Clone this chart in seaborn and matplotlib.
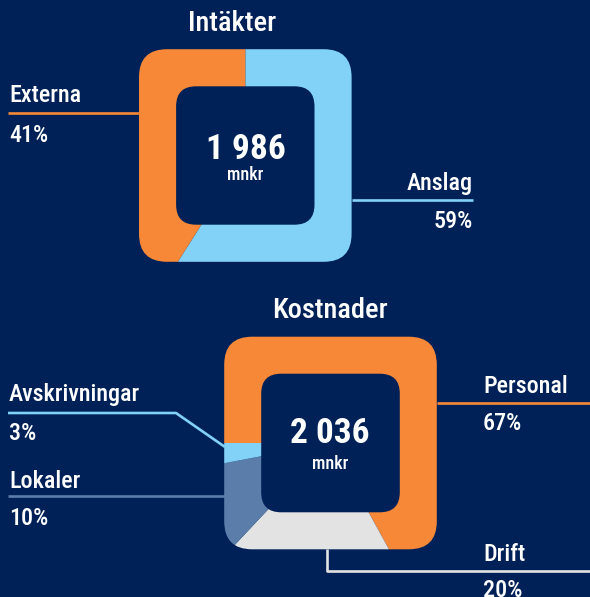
import matplotlib
matplotlib.use("Agg")
import matplotlib.pyplot as plt
from matplotlib.patches import FancyBboxPatch
from matplotlib import font_manager
import seaborn as sns

# ---------------- data ----------------
income_labels = ["Anslag", "Externa"]
income_values = [59, 41]
income_total = "1 986"

cost_labels = ["Personal", "Drift", "Lokaler", "Avskrivningar"]
cost_values = [67, 20, 10, 3]
cost_total = "2 036"

unit = "mnkr"
titles = ["Intäkter", "Kostnader"]

# ---------------- style ----------------
BG = "#002157"
ORANGE = "#F78837"
LIGHTBLUE = "#82D2F8"
STEEL = "#5A7DAA"
GRAY = "#E3E3E3"
income_colors = [LIGHTBLUE, ORANGE]
cost_colors = [ORANGE, GRAY, STEEL, LIGHTBLUE]

sns.set_theme(style="dark", rc={"axes.facecolor": BG, "figure.facecolor": BG,
                                "savefig.facecolor": BG})
names = {f.name for f in font_manager.fontManager.ttflist}
fam = [n for n in ["Roboto Condensed", "Roboto", "Liberation Sans", "DejaVu Sans"] if n in names]
plt.rcParams["font.family"] = fam

W, H = 590, 597
fig = plt.figure(figsize=(W / 100, H / 100), dpi=100)
ax = fig.add_axes([0, 0, 1, 1])


def Y(y):
    return H - y


def donut(values, colors, cx, cy, half_out, r_out, half_in, r_in, start):
    outer = FancyBboxPatch((cx - half_out, Y(cy) - half_out), 2 * half_out, 2 * half_out,
                           boxstyle=f"round,pad=0,rounding_size={r_out}",
                           facecolor="none", edgecolor="none", zorder=0)
    ax.add_patch(outer)
    wedges, _ = ax.pie(values, colors=colors, startangle=start, counterclock=False,
                       center=(cx, Y(cy)), radius=170, frame=True,
                       wedgeprops=dict(linewidth=0, antialiased=True))
    for w in wedges:
        w.set_clip_on(True)
        w.set_clip_path(outer)
    inner = FancyBboxPatch((cx - half_in, Y(cy) - half_in), 2 * half_in, 2 * half_in,
                           boxstyle=f"round,pad=0,rounding_size={r_in}",
                           facecolor=BG, edgecolor="none", zorder=5)
    ax.add_patch(inner)


donut(income_values, income_colors, 245.3, 155.5, 106.3, 28, 69.2, 20, 90)
donut(cost_values, cost_colors, 330.5, 443.0, 106.3, 28, 69.3, 20, 180)

ax.set_xlim(0, W)
ax.set_ylim(0, H)
ax.set_aspect("equal")
ax.axis("off")

LW = 1.9
TXT = dict(color="white", fontsize=17.3, fontweight=500, va="baseline", zorder=10)


def line(xs, ys, color):
    ax.plot(xs, [Y(v) for v in ys], color=color, lw=LW, solid_capstyle="butt", zorder=4)


# titles
ax.text(232.5, Y(31), titles[0], ha="center", **{**TXT, "fontsize": 20.5})
ax.text(330, Y(318), titles[1], ha="center", **{**TXT, "fontsize": 20.5})

# center totals
ax.text(245.5, Y(159), income_total, ha="center", color="white", fontsize=25.5,
        fontweight="bold", va="baseline", zorder=10)
ax.text(245.5, Y(180), unit, ha="center", color="white", fontsize=13,
        fontweight=500, va="baseline", zorder=10)
ax.text(330, Y(443), cost_total, ha="center", color="white", fontsize=25.5,
        fontweight="bold", va="baseline", zorder=10)
ax.text(330, Y(469), unit, ha="center", color="white", fontsize=13,
        fontweight=500, va="baseline", zorder=10)

# income labels
ax.text(9, Y(102), income_labels[1], ha="left", **TXT)
ax.text(9, Y(142), f"{income_values[1]}%", ha="left", **TXT)
line([8, 139], [113, 113], ORANGE)

ax.text(473, Y(190), income_labels[0], ha="right", **TXT)
ax.text(473, Y(228), f"{income_values[0]}%", ha="right", **TXT)
line([352, 473], [200, 200], LIGHTBLUE)

# cost labels
ax.text(483, Y(393), cost_labels[0], ha="left", **TXT)
ax.text(483, Y(430), f"{cost_values[0]}%", ha="left", **TXT)
line([437, 590], [403, 403], ORANGE)

ax.text(9, Y(401), cost_labels[3], ha="left", **TXT)
ax.text(9, Y(440), f"{cost_values[3]}%", ha="left", **TXT)
line([8, 176, 225], [413, 413, 447], LIGHTBLUE)

ax.text(9, Y(488), cost_labels[2], ha="left", **TXT)
ax.text(9, Y(525), f"{cost_values[2]}%", ha="left", **TXT)
line([8, 225], [496, 496], STEEL)

ax.text(483, Y(561), cost_labels[1], ha="left", **TXT)
ax.text(483, Y(597), f"{cost_values[1]}%", ha="left", **TXT)
line([327, 327, 590], [549, 571, 571], GRAY)

fig.savefig("out.png", dpi=100, facecolor=BG)
